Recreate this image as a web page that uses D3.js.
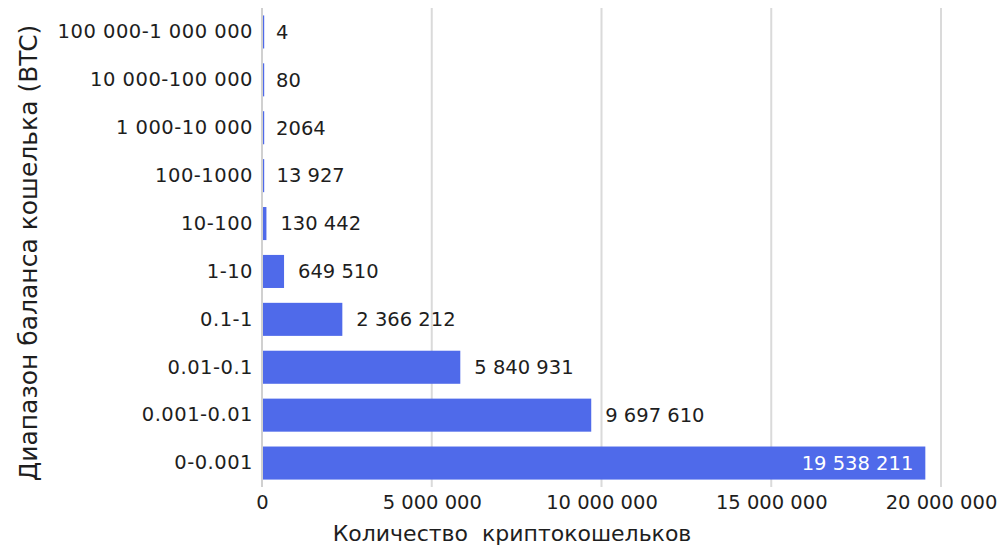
<!DOCTYPE html>
<html>
<head>
<meta charset="utf-8">
<script src="https://cdn.jsdelivr.net/npm/d3@7"></script>
<style>
  body { margin: 0; background: #fff; }
  svg { display: block; font-family: "DejaVu Sans", sans-serif; }
</style>
</head>
<body>
<svg id="chart" width="1008" height="547"></svg>
<script>
const categories = ["100 000-1 000 000", "10 000-100 000", "1 000-10 000", "100-1000", "10-100", "1-10", "0.1-1", "0.01-0.1", "0.001-0.01", "0-0.001"];
const values = [4, 80, 2064, 13927, 130442, 649510, 2366212, 5840931, 9697610, 19538211];
const xTicks = [0, 5000000, 10000000, 15000000, 20000000];
const xTitle = "Количество  криптокошельков";
const yTitle = "Диапазон баланса кошелька (BTC)";

(function () {
const data = categories.map((c, i) => ({ cat: c, val: values[i] }));

function fmt(v) {
  if (v < 10000) return String(v);
  return d3.format(",")(v).replace(/,/g, " ");
}

const svg = d3.select("#chart");
const mLeft = 262, mRight = 941, mTop = 8, mBottom = 487;
const barColor = "#4f6aea";
const textColor = "#1e1e1e";

const x = d3.scaleLinear().domain([0, 20000000]).range([mLeft, mRight]);
const y = d3.scaleBand().domain(categories).range([mTop, mBottom]).paddingInner(0.31).paddingOuter(0.155);

// gridlines
svg.append("g").selectAll("line").data(xTicks.slice(1)).join("line")
  .attr("x1", d => x(d)).attr("x2", d => x(d))
  .attr("y1", mTop).attr("y2", mBottom)
  .attr("stroke", "#dadada").attr("stroke-width", 2);

// bars
svg.append("g").selectAll("rect").data(data).join("rect")
  .attr("x", x(0))
  .attr("y", d => y(d.cat))
  .attr("width", d => Math.max(x(d.val) - x(0), 2.2))
  .attr("height", y.bandwidth())
  .attr("fill", barColor);

// axis line
svg.append("line").attr("x1", mLeft).attr("x2", mLeft).attr("y1", mTop).attr("y2", mBottom)
  .attr("stroke", "#d0d0d0").attr("stroke-width", 2);

// y axis labels
const yAxis = d3.axisLeft(y).tickSize(0).tickPadding(9);
const gy = svg.append("g").attr("transform", `translate(${mLeft},0)`).call(yAxis);
gy.select(".domain").remove();
gy.selectAll("text").attr("font-size", 19.5).attr("fill", textColor)
  .attr("font-family", "DejaVu Sans").attr("letter-spacing", 0.5);

// x axis labels
const xAxis = d3.axisBottom(x).tickValues(xTicks).tickSize(0).tickPadding(8).tickFormat(fmt);
const gx = svg.append("g").attr("transform", `translate(0,${mBottom})`).call(xAxis);
gx.select(".domain").remove();
gx.selectAll("text").attr("font-size", 19.5).attr("fill", textColor)
  .attr("font-family", "DejaVu Sans");

// value labels
const maxV = d3.max(values);
svg.append("g").selectAll("text").data(data).join("text")
  .attr("x", d => d.val === maxV ? x(d.val) - 12 : x(d.val) + 14)
  .attr("y", d => y(d.cat) + y.bandwidth() / 2)
  .attr("dy", "0.35em")
  .attr("text-anchor", d => d.val === maxV ? "end" : "start")
  .attr("fill", d => d.val === maxV ? "#fff" : textColor)
  .attr("font-size", 19.5)
  .text(d => fmt(d.val));

// axis titles
svg.append("text").attr("x", 512).attr("y", 541).attr("text-anchor", "middle")
  .attr("font-size", 22).attr("fill", textColor)
  .style("white-space", "pre")
  .text(xTitle);

svg.append("text").attr("transform", "translate(37,253) rotate(-90)")
  .attr("text-anchor", "middle").attr("font-size", 25).attr("fill", textColor)
  .text(yTitle);
})();
</script>
</body>
</html>
